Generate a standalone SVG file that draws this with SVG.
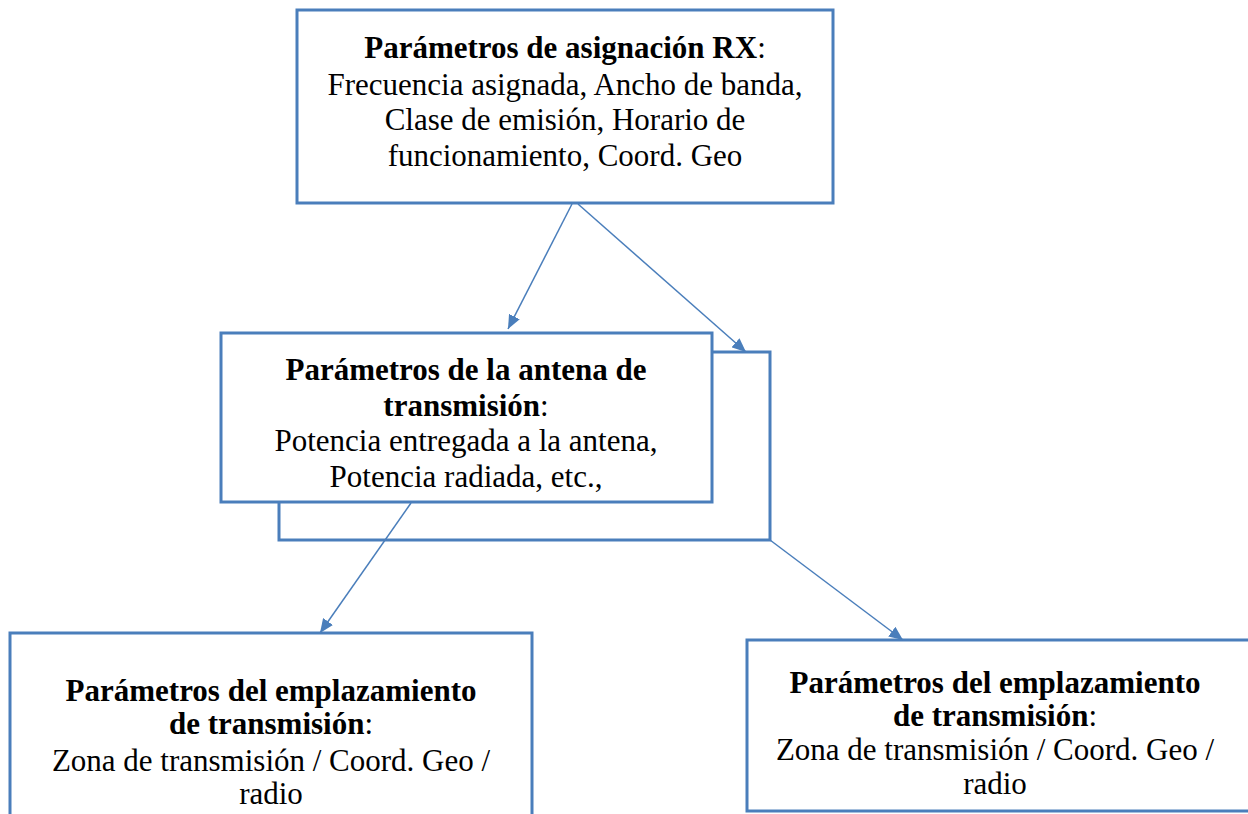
<svg xmlns="http://www.w3.org/2000/svg" width="1248" height="814" viewBox="0 0 1248 814">
<style>
.box{fill:#fff;stroke:#4A7EBB;stroke-width:3}
.t{font-family:"Liberation Serif","DejaVu Serif",serif;font-size:31px;fill:#000;text-anchor:middle}
.b{font-weight:bold}
.c{stroke:#4A7EBB;stroke-width:1.5;fill:none;marker-end:url(#ah)}
</style>
<defs>
<marker id="ah" viewBox="0 0 14 12" refX="14" refY="6" markerWidth="14" markerHeight="12" markerUnits="userSpaceOnUse" orient="auto">
<path d="M0,0 L14,6 L0,12 z" fill="#4A7EBB"/>
</marker>
</defs>
<rect width="1248" height="814" fill="#fff"/>
<g id="n1">
<rect class="box" x="297" y="10" width="536" height="193"/>
<text class="t" x="565" y="58"><tspan class="b">Parámetros de asignación RX</tspan>:</text>
<text class="t" x="565" y="95">Frecuencia asignada, Ancho de banda,</text>
<text class="t" x="565" y="130">Clase de emisión, Horario de</text>
<text class="t" x="565" y="166">funcionamiento, Coord. Geo</text>
</g>
<g id="n2back">
<rect class="box" x="279" y="352" width="491" height="188"/>
</g>
<g id="n2">
<rect class="box" x="221" y="333" width="491" height="169"/>
<text class="t b" x="466" y="380">Parámetros de la antena de</text>
<text class="t" x="466" y="416"><tspan class="b">transmisión</tspan>:</text>
<text class="t" x="466" y="451">Potencia entregada a la antena,</text>
<text class="t" x="466" y="487">Potencia radiada, etc.,</text>
</g>
<g id="n3">
<rect class="box" x="10" y="633" width="522" height="200"/>
<text class="t b" x="271" y="701">Parámetros del emplazamiento</text>
<text class="t" x="271" y="734"><tspan class="b">de transmisión</tspan>:</text>
<text class="t" x="271" y="771">Zona de transmisión / Coord. Geo /</text>
<text class="t" x="271" y="804">radio</text>
</g>
<g id="n4">
<rect class="box" x="747" y="640" width="520" height="171"/>
<text class="t b" x="995" y="693">Parámetros del emplazamiento</text>
<text class="t" x="995" y="726"><tspan class="b">de transmisión</tspan>:</text>
<text class="t" x="995" y="760">Zona de transmisión / Coord. Geo /</text>
<text class="t" x="995" y="794">radio</text>
</g>
<g id="connectors">
<line class="c" x1="572" y1="204" x2="508" y2="329"/>
<line class="c" x1="578" y1="204" x2="746" y2="352"/>
<line class="c" x1="411" y1="503" x2="320" y2="633"/>
<line class="c" x1="770" y1="540" x2="903" y2="640"/>
</g>
</svg>
